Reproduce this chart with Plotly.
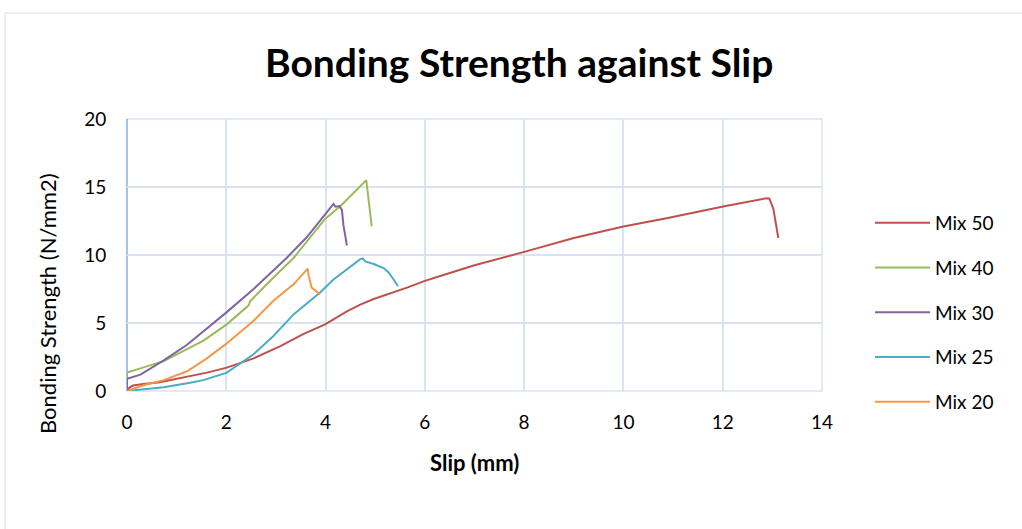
import plotly.graph_objects as go

# ---- data ----
mix50_x = [0, 0.05, 0.12, 0.33, 0.66, 1.21, 1.61, 2.01, 2.55, 3.09, 3.56, 3.99, 4.2, 4.43, 4.7, 4.97, 5.64, 6.0, 6.31, 7.0, 8.02, 9.0, 10.0, 10.87, 12.01, 12.89, 12.94, 13.02, 13.12]
mix50_y = [0, 0.25, 0.4, 0.52, 0.64, 1.03, 1.35, 1.72, 2.4, 3.3, 4.2, 4.9, 5.35, 5.85, 6.35, 6.76, 7.6, 8.1, 8.45, 9.25, 10.25, 11.25, 12.1, 12.7, 13.56, 14.18, 14.15, 13.4, 11.25]

mix40_x = [0, 0, 0.3, 0.74, 1.54, 2.01, 2.45, 2.48, 2.95, 3.36, 3.99, 4.3, 4.82, 4.87, 4.93]
mix40_y = [0.9, 1.35, 1.7, 2.2, 3.7, 4.9, 6.3, 6.6, 8.35, 9.8, 12.65, 13.6, 15.5, 14.0, 12.1]

mix30_x = [0, 0, 0.27, 0.74, 1.21, 1.68, 2.01, 2.55, 3.22, 3.62, 4.16, 4.2, 4.28, 4.33, 4.36, 4.43]
mix30_y = [0.1, 0.9, 1.2, 2.25, 3.4, 4.8, 5.8, 7.5, 9.8, 11.3, 13.76, 13.55, 13.6, 13.3, 12.2, 10.7]

mix25_x = [0, 0.33, 0.74, 1.27, 1.54, 2.01, 2.55, 2.95, 3.36, 3.89, 4.16, 4.7, 4.75, 4.8, 4.97, 5.17, 5.27, 5.37, 5.46]
mix25_y = [0, 0.13, 0.28, 0.6, 0.8, 1.35, 2.7, 4.05, 5.65, 7.25, 8.2, 9.7, 9.75, 9.53, 9.34, 9.04, 8.72, 8.2, 7.7]

mix20_x = [0, 0.33, 0.74, 1.21, 1.61, 2.01, 2.55, 2.95, 3.36, 3.64, 3.66, 3.72, 3.79, 3.89]
mix20_y = [0, 0.42, 0.8, 1.45, 2.4, 3.5, 5.16, 6.63, 7.86, 9.0, 8.48, 7.6, 7.4, 7.1]

series_names = ["Mix 50", "Mix 40", "Mix 30", "Mix 25", "Mix 20"]
series_x = [mix50_x, mix40_x, mix30_x, mix25_x, mix20_x]
series_y = [mix50_y, mix40_y, mix30_y, mix25_y, mix20_y]
colors = ["#C0504D", "#9BBB59", "#8064A2", "#4BACC6", "#F79646"]

x_ticks = [0, 2, 4, 6, 8, 10, 12, 14]
y_ticks = [0, 5, 10, 15, 20]

FONT = "Lato"
W, H = 1022, 529
L, R, T, B = 127, 200, 119, 138
PW, PH = W - L - R, H - T - B


def px_x(p):
    return (p - L) / PW


def px_y(p):
    return (H - B - p) / PH


fig = go.Figure()
for i, (name, xs, ys, c) in enumerate(zip(series_names, series_x, series_y, colors)):
    fig.add_trace(go.Scatter(x=xs, y=ys, mode="lines", name=name,
                             legendgroup=name,
                             line=dict(color=c, width=2)))

grid = "#D9E3F2"
fig.update_layout(
    width=W, height=H,
    margin=dict(l=L, r=R, t=T, b=B),
    paper_bgcolor="white", plot_bgcolor="white",
    font=dict(family=FONT, size=19, color="#000000"),
    showlegend=True,
    legend=dict(x=px_x(870), y=px_y(204), xanchor="left", yanchor="top",
                font=dict(size=19, family=FONT), tracegroupgap=17,
                itemwidth=55,
                traceorder="grouped", bgcolor="rgba(0,0,0,0)"),
    xaxis=dict(range=[0, 14], tickvals=x_ticks, ticktext=[str(v) for v in x_ticks],
               showgrid=True, gridcolor=grid, gridwidth=1.5, zeroline=False,
               showline=False, ticks="outside", ticklen=14,
               tickcolor="rgba(0,0,0,0)", tickfont=dict(size=19, family=FONT)),
    yaxis=dict(range=[0, 20], tickvals=y_ticks, ticktext=[str(v) for v in y_ticks],
               showgrid=True, gridcolor=grid, gridwidth=1.5, zeroline=False,
               showline=False, ticks="outside", ticklen=16,
               tickcolor="rgba(0,0,0,0)", tickfont=dict(size=19, family=FONT)),
    shapes=[
        # outer chart frame
        dict(type="rect", xref="paper", yref="paper",
             x0=px_x(5), x1=px_x(1040), y0=px_y(540), y1=px_y(13),
             line=dict(color="#D6DCE5", width=1), layer="below"),
        # plot border (grid colour)
        dict(type="rect", xref="paper", yref="paper", x0=0, x1=1, y0=0, y1=1,
             line=dict(color=grid, width=1.5), layer="below"),
        # vertical axis line
        dict(type="line", xref="paper", yref="paper", x0=0, x1=0, y0=0, y1=1,
             line=dict(color="#8EB4E3", width=1.5), layer="below"),
    ],
    annotations=[
        dict(text="<b>Bonding Strength against Slip</b>", xref="paper", yref="paper",
             x=px_x(519), y=px_y(62), xanchor="center", yanchor="middle",
             showarrow=False, font=dict(size=39, family=FONT)),
        dict(text="<b>Slip (mm)</b>", xref="paper", yref="paper",
             x=px_x(475), y=px_y(462), xanchor="center", yanchor="middle",
             showarrow=False, font=dict(size=22, family=FONT)),
        dict(text="Bonding Strength (N/mm2)", xref="paper", yref="paper",
             x=px_x(47), y=px_y(304), xanchor="center", yanchor="middle",
             textangle=-90, showarrow=False, font=dict(size=22, family=FONT)),
    ],
)

fig.write_html("out.html")
